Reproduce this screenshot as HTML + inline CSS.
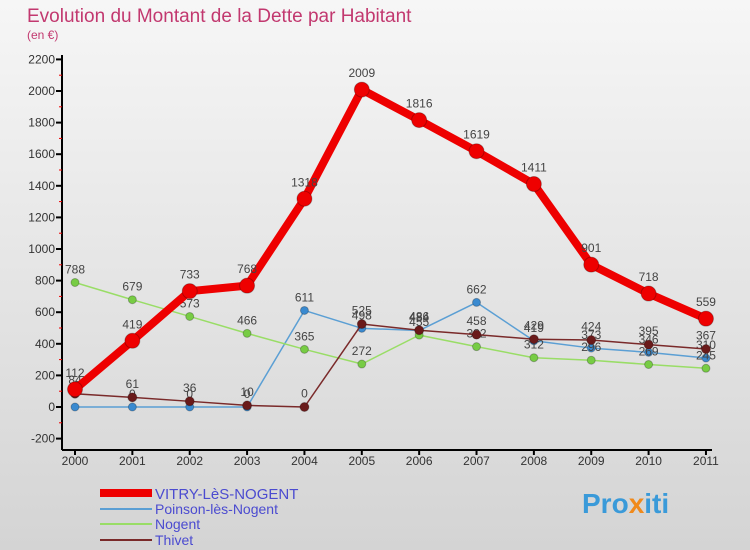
<!DOCTYPE html>
<html><head><meta charset="utf-8"><style>
body{margin:0;width:750px;height:550px;overflow:hidden;font-family:"Liberation Sans",sans-serif}
svg{display:block}
</style></head><body>
<svg id="c" width="750" height="550" xmlns="http://www.w3.org/2000/svg">
<defs><linearGradient id="bg" x1="0" y1="0" x2="0" y2="1"><stop offset="0" stop-color="#f6f6f6"/><stop offset="1" stop-color="#d4d4d4"/></linearGradient></defs>
<rect width="750" height="550" fill="url(#bg)"/>
<text x="27" y="22" font-size="19" fill="#c2386f">Evolution du Montant de la Dette par Habitant</text>
<text x="27" y="39" font-size="12" fill="#c2386f">(en €)</text>
<g id="axes"></g><g id="series"></g>
<g>
<line x1="100" y1="493" x2="152" y2="493" stroke="#ee0000" stroke-width="8"/>
<text x="155" y="499" font-size="15" fill="#4b4bd0">VITRY-LèS-NOGENT</text>
<line x1="100" y1="509" x2="152" y2="509" stroke="#5b9fd4" stroke-width="2"/>
<text x="155" y="514" font-size="14" fill="#4b4bd0">Poinson-lès-Nogent</text>
<line x1="100" y1="524" x2="152" y2="524" stroke="#99dd66" stroke-width="2"/>
<text x="155" y="529" font-size="14" fill="#4b4bd0">Nogent</text>
<line x1="100" y1="540" x2="152" y2="540" stroke="#7a2a2a" stroke-width="2"/>
<text x="155" y="545" font-size="14" fill="#4b4bd0">Thivet</text>
</g>
<text x="582" y="513" font-size="28" font-weight="bold" fill="#3a9ad9">Pro<tspan fill="#f08a1c">x</tspan>iti</text>
</svg>
<script>
const years=["2000","2001","2002","2003","2004","2005","2006","2007","2008","2009","2010","2011"];
const yTicks=[-200,0,200,400,600,800,1000,1200,1400,1600,1800,2000,2200];
const vitry=[112,419,733,768,1318,2009,1816,1619,1411,901,718,559];
const poinson=[0,0,0,0,611,498,484,662,419,373,346,310];
const nogent=[788,679,573,466,365,272,455,382,312,296,269,245];
const thivet=[84,61,36,10,0,525,486,458,429,424,395,367];
const NS="http://www.w3.org/2000/svg";
const x=i=>75+i*57.36;
const y=v=>407-v*0.158;
function mk(t,a,p){const e=document.createElementNS(NS,t);for(const k in a)e.setAttribute(k,a[k]);p.appendChild(e);return e;}
const ax=document.getElementById('axes');
let l=mk('line',{x1:62,y1:55,x2:62,y2:450,stroke:'#000','stroke-width':2},ax);


l=mk('line',{x1:62,y1:450,x2:712,y2:450,stroke:'#000','stroke-width':2},ax);


yTicks.forEach((v,i)=>{
 mk('line',{x1:56,y1:y(v),x2:62,y2:y(v),stroke:'#000','stroke-width':2},ax);
 if(i<yTicks.length-1)mk('line',{x1:59,y1:y(v+100),x2:62,y2:y(v+100),stroke:'#e00','stroke-width':1},ax);
 const t=mk('text',{x:55,y:y(v)+4,'font-size':12,fill:'#333','text-anchor':'end'},ax);
 t.textContent=v;
 
 
});
years.forEach((yr,i)=>{
 mk('line',{x1:x(i),y1:450,x2:x(i),y2:455,stroke:'#000','stroke-width':2},ax);
 const t=mk('text',{x:x(i),y:465,'font-size':12,fill:'#333','text-anchor':'middle'},ax);
 t.textContent=yr;
 
 
});
const sg=document.getElementById('series');
function draw(vals,color,w,r,name,dot){
 const g=mk('g',{},sg);
 
 
 const p=mk('polyline',{points:vals.map((v,i)=>x(i)+','+y(v)).join(' '),fill:'none',stroke:color,'stroke-width':w,'stroke-linejoin':'round'},g);
 
 
 vals.forEach((v,i)=>{
  const c=mk('circle',{cx:x(i),cy:y(v),r:r,fill:dot,stroke:'rgba(0,0,0,0.25)','stroke-width':1},g);
  
  
  const t=mk('text',{x:x(i),y:y(v)-(r+5),'font-size':12,fill:'#444','text-anchor':'middle'},g);
  t.textContent=v;
  
  
 });
}
draw(poinson,'#5b9fd4',1.5,4,'poinson','#3a8ad0');
draw(nogent,'#99dd66',1.5,4,'nogent','#77cc44');
draw(thivet,'#7a2a2a',1.5,4.5,'thivet','#6a1a1a');
draw(vitry,'#ee0000',8,7.5,'vitry','#ee0000');
</script>
</body></html>
